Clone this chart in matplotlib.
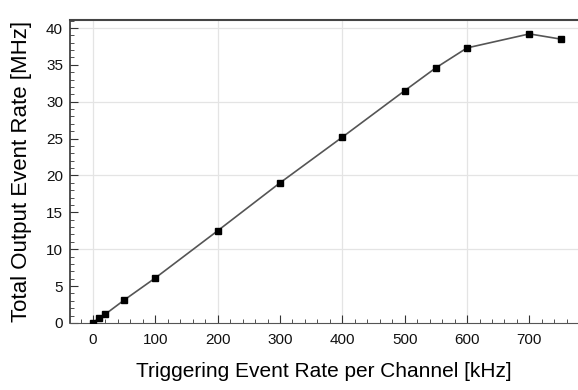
import matplotlib
matplotlib.use("Agg")
import matplotlib.pyplot as plt
from matplotlib.ticker import MultipleLocator

plt.rcParams['font.family'] = ['Liberation Sans', 'DejaVu Sans']

# Triggering rate per channel [kHz] vs total output rate [MHz]
trig_rate = [0, 10, 20, 50, 100, 200, 300, 400, 500, 550, 600, 700, 750]
out_rate = [0.0, 0.7, 1.2, 3.1, 6.1, 12.5, 19.0, 25.2, 31.5, 34.6, 37.3, 39.2, 38.5]

x_grid = [0, 200, 400, 600]
y_grid = [10, 20, 30, 40]

fig = plt.figure(figsize=(5.78, 3.9), dpi=100)
ax = fig.add_axes([0.121, 0.172, 0.879, 0.777])

for gx in x_grid:
    ax.axvline(gx, color='#e4e4e4', lw=0.9, zorder=0)
for gy in y_grid:
    ax.axhline(gy, color='#e4e4e4', lw=0.9, zorder=0)

ax.plot(trig_rate, out_rate, color='#555555', lw=1.2, marker='s', ms=4.5,
        mfc='black', mec='black', zorder=3)

ax.set_xlim(-37, 778)
ax.set_ylim(0, 41.1)
ax.xaxis.set_major_locator(MultipleLocator(100))
ax.xaxis.set_minor_locator(MultipleLocator(20))
ax.yaxis.set_major_locator(MultipleLocator(5))
ax.yaxis.set_minor_locator(MultipleLocator(1))
ax.tick_params(which='both', direction='in', color='#333333', labelcolor='#111111', labelsize=11)
ax.tick_params(which='major', length=6)
ax.tick_params(which='minor', length=3)
ax.tick_params(axis='x', pad=7)
ax.tick_params(axis='y', pad=5)

ax.spines['right'].set_visible(False)
ax.spines['top'].set_color('#444444')
ax.spines['top'].set_linewidth(1.5)
ax.spines['left'].set_color('#333333')
ax.spines['left'].set_linewidth(1.2)
ax.spines['bottom'].set_color('#555555')

ax.set_xlabel('Triggering Event Rate per Channel [kHz]', fontsize=15, labelpad=11)
ax.set_ylabel('Total Output Event Rate [MHz]', fontsize=16, labelpad=10)

fig.savefig('out.png', dpi=100)
